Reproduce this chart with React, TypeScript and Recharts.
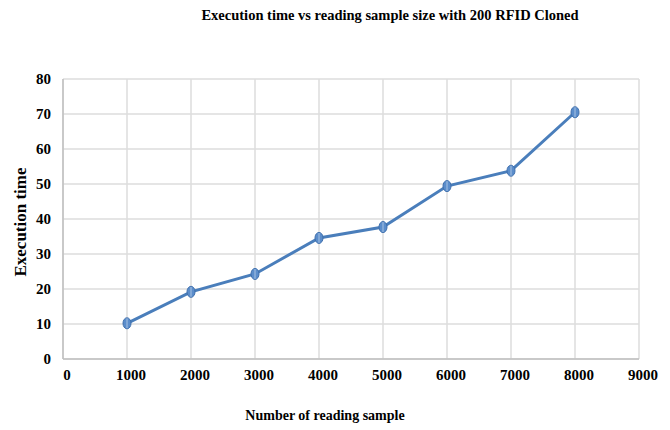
import { FC } from "react";
import {
  LineChart,
  Line,
  XAxis,
  YAxis,
  CartesianGrid,
  Label,
} from "recharts";

// reading sample sizes and measured execution time
const sampleSizes = [1000, 2000, 3000, 4000, 5000, 6000, 7000, 8000];
const executionTimes = [10.2, 19.2, 24.3, 34.6, 37.7, 49.4, 53.8, 70.5];

const xTicks = [0, 1000, 2000, 3000, 4000, 5000, 6000, 7000, 8000, 9000];
const yTicks = [0, 10, 20, 30, 40, 50, 60, 70, 80];

const data = sampleSizes.map((size, i) => ({
  size,
  time: executionTimes[i],
}));

const serif = "'Liberation Serif', 'Times New Roman', serif";
const lineColor = "#4a7ebb";

const OvalDot: FC<any> = ({ cx, cy }) => {
  if (cx == null || cy == null) return null;
  return (
    <g>
      <ellipse
        cx={cx}
        cy={cy}
        rx={4}
        ry={5.5}
        fill="#5b8dcb"
        stroke="#3e6fad"
        strokeWidth={1}
      />
      <line
        x1={cx}
        y1={cy - 5}
        x2={cx}
        y2={cy + 5}
        stroke="#a9c3e3"
        strokeWidth={1}
      />
    </g>
  );
};

const XTick: FC<any> = ({ x, y, payload }) => (
  <text
    x={x + 4}
    y={y + 19}
    textAnchor="middle"
    fill="#000"
    fontSize={15}
    fontWeight="bold"
    fontFamily={serif}
  >
    {payload.value}
  </text>
);

const YTick: FC<any> = ({ x, y, payload }) => (
  <text
    x={x - 10}
    y={y + 5}
    textAnchor="end"
    fill="#000"
    fontSize={15}
    fontWeight="bold"
    fontFamily={serif}
  >
    {payload.value}
  </text>
);

const App: FC = () => {
  return (
    <div
      style={{
        position: "absolute",
        left: 0,
        top: 0,
        width: 670,
        height: 430,
        background: "#fff",
        fontFamily: serif,
      }}
    >
      <div
        style={{
          position: "absolute",
          top: 7,
          left: 190,
          width: 400,
          textAlign: "center",
          fontWeight: "bold",
          fontSize: 14.5,
          color: "#000",
          whiteSpace: "nowrap",
        }}
      >
        Execution time vs reading sample size with 200 RFID Cloned
      </div>
      <LineChart
        width={670}
        height={430}
        data={data}
        margin={{ top: 79, right: 31, bottom: 0, left: 0 }}
      >
        <CartesianGrid stroke="#dcdcdc" strokeWidth={1.5} />
        <XAxis
          dataKey="size"
          type="number"
          domain={[0, 9000]}
          ticks={xTicks}
          interval={0}
          height={71}
          tickLine={false}
          tickSize={0}
          axisLine={{ stroke: "#bfbfbf", strokeWidth: 1.5 }}
          tick={<XTick />}
        >
          <Label
            value="Number of reading sample"
            position="insideBottom"
            offset={10}
            dx={-26}
            style={{
              fill: "#000",
              fontSize: 14,
              fontWeight: "bold",
              fontFamily: serif,
            }}
          />
        </XAxis>
        <YAxis
          type="number"
          domain={[0, 80]}
          ticks={yTicks}
          interval={0}
          width={63}
          tickLine={false}
          tickSize={0}
          axisLine={{ stroke: "#bfbfbf", strokeWidth: 1.5 }}
          tick={<YTick />}
        >
          <Label
            value="Execution time"
            angle={-90}
            position="insideLeft"
            offset={20}
            dy={3}
            style={{
              textAnchor: "middle",
              fill: "#000",
              fontSize: 17,
              fontWeight: "bold",
              fontFamily: serif,
            }}
          />
        </YAxis>
        <Line
          type="linear"
          dataKey="time"
          stroke={lineColor}
          strokeWidth={3}
          dot={<OvalDot />}
          activeDot={false}
          isAnimationActive={false}
        />
      </LineChart>
    </div>
  );
};

export default App;
